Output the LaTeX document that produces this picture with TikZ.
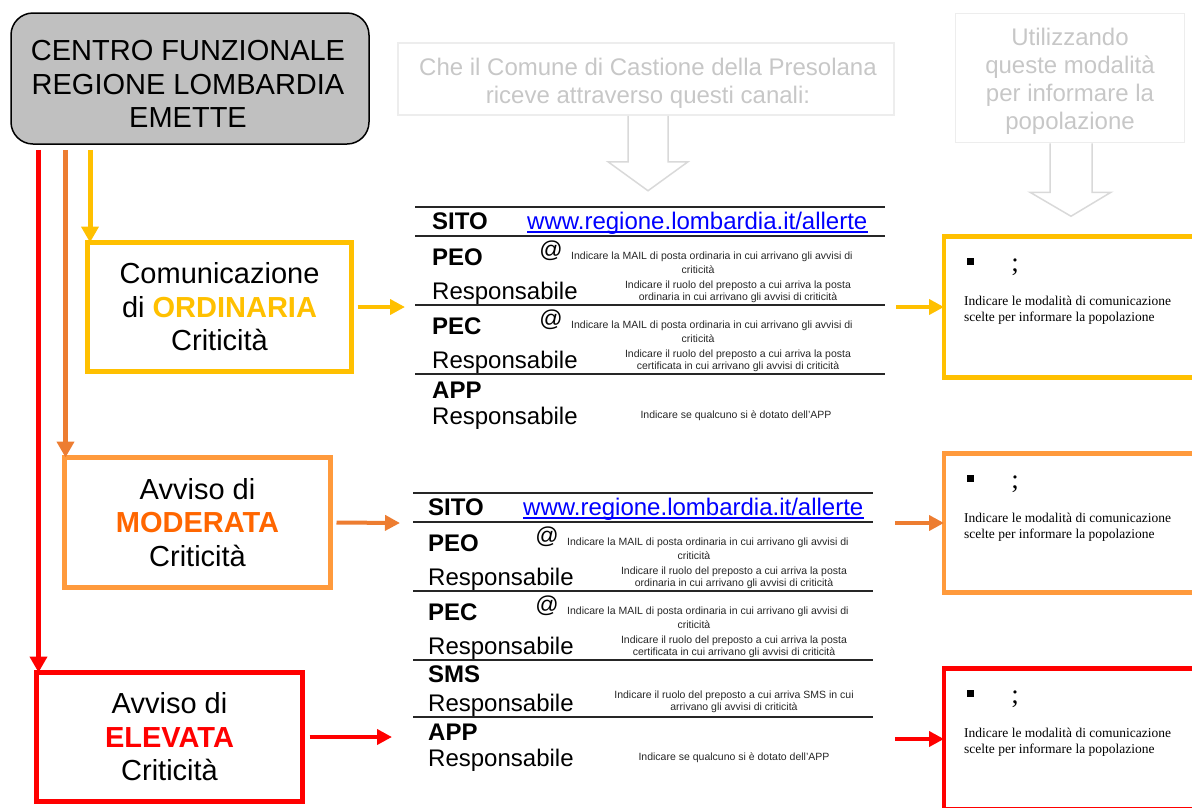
\documentclass[tikz,border=0pt]{standalone}
\usepackage{fontspec}
\setmainfont{Liberation Sans}
\newfontfamily\timesfont{Liberation Serif}
\usetikzlibrary{calc}
\usetikzlibrary{arrows.meta}

\definecolor{giallo}{HTML}{FFC000}
\definecolor{arancio}{HTML}{ED7D31}
\definecolor{aranciobox}{HTML}{FF9A3C}
\definecolor{arancione}{HTML}{FF6600}
\definecolor{rosso}{HTML}{FF0000}
\definecolor{grigio}{HTML}{C0C0C0}

\begin{document}
\begin{tikzpicture}[x=1pt, y=-1pt,
  livello/.style={draw=#1, line width=5pt, minimum width=266pt, minimum height=129pt, inner sep=0pt, outer sep=0pt, align=center, font=\fontsize{29}{33.5}\selectfont},
  uscita/.style={draw=#1, line width=4.5pt, minimum width=254pt, minimum height=141pt, inner sep=0pt, outer sep=0pt},
  giu/.style={line width=5pt, -{Triangle[length=16pt,width=17pt]}},
  lato/.style={line width=4pt, -{Triangle[length=15pt,width=15pt]}},
  testata/.style={draw=black!7, line width=1.5pt},
  titolo/.style={text=black!22, align=center, inner sep=0pt, font=\fontsize{24}{28}\selectfont},
  cava/.style={draw=black!15, line width=1.5pt, line join=miter},
  riga/.style={black!85, line width=1.4pt},
  canale/.style={anchor=base west, inner sep=0pt, font=\bfseries\fontsize{24}{28}\selectfont},
  resp/.style={anchor=base west, inner sep=0pt, font=\fontsize{24}{28}\selectfont},
  nota/.style={inner sep=0pt, align=center, text=black!85, font=\fontsize{10.5}{12}\selectfont},
  modo/.style={anchor=north west, inner sep=0pt, align=left, font=\timesfont\fontsize{13.5}{16}\selectfont}]
\clip (0,0) rectangle (1192,807);

\node[draw, line width=1.5pt, fill=grigio, rounded corners=22pt, minimum width=358pt, minimum height=131pt] (centro) at (190,78.5) {};
\node[align=center, inner sep=0pt, font=\fontsize{29}{33.5}\selectfont] (centrotesto) at (188,84) {CENTRO FUNZIONALE\\REGIONE LOMBARDIA\\EMETTE};

\node[livello=giallo, minimum width=264pt] (ord) at (219.5,307) {Comunicazione\\di \textcolor{giallo}{\bfseries ORDINARIA}\\Criticità};
\node[livello=aranciobox, minimum height=130pt] (mod) at (197.5,522.5) {Avviso di\\\textcolor{arancione}{\bfseries MODERATA}\\Criticità};
\node[livello=rosso] (ele) at (169.5,737) {Avviso di\\\textcolor{rosso}{\bfseries ELEVATA}\\Criticità};

\draw[giu, rosso] ($(centro.south -| ele.north west)+(2,5)$) -- ([xshift=2pt]ele.north west);
\draw[giu, arancio] ($(centro.south -| mod.north west)+(1,5)$) -- ([xshift=1pt]mod.north west);
\draw[giu, giallo] ($(centro.south -| ord.north west)+(2.5,5)$) -- ([xshift=2.5pt]ord.north west);

\node[testata, minimum width=496pt, minimum height=72pt] (canali) at (646,79) {};
\node[titolo] (canalitesto) at (648,83) {Che il Comune di Castione della Presolana\\riceve attraverso questi canali:};
\node[testata, minimum width=229pt, minimum height=129pt] (popolo) at (1070,78) {};
\node[titolo] (popolotesto) at (1070,81) {Utilizzando\\queste modalità\\per informare la\\popolazione};
\draw[cava] ([xshift=-18pt]canali.south) -- ++(0,46) -- ++(-20,0) -- ++(40,29) -- ++(40,-29) -- ++(-20,0) -- ++(0,-46);
\draw[cava] ([xshift=-20pt]popolo.south) -- ++(0,49) -- ++(-20,0) -- ++(41,24) -- ++(40,-24) -- ++(-19,0) -- ++(0,-49);

\node[uscita=giallo] (modoa) at (1071,307) {};
\node[uscita=aranciobox, minimum height=139pt] (modob) at (1071,523) {};
\node[uscita=rosso] (modoc) at (1071,739) {};
\foreach \b in {modoa, modob, modoc} {
  \fill ($(\b.north west)+(23,21.5)$) rectangle ++(7,7);
  \node[font=\timesfont\fontsize{27}{30}\selectfont, inner sep=0pt] (pv\b) at ($(\b.north west)+(71,31)$) {;};
  \node[modo] (txt\b) at ($(\b.north west)+(20,59)$) {Indicare le modalità di comunicazione\\scelte per informare la popolazione};
}

\coordinate (ina) at (405,307);
\coordinate (inb) at (400,523);
\coordinate (inc) at (392,737);
\coordinate (outa) at (896,307);
\coordinate (outb) at (895,523);
\coordinate (outc) at (895,739);
\draw[lato, giallo] ([xshift=6pt]ord.east) -- (ina);
\draw[lato, arancio] ([xshift=6pt]mod.east) -- (inb);
\draw[lato, rosso] ([xshift=7pt]ele.east) -- (inc);
\draw[lato, giallo] (outa) -- (modoa.west);
\draw[lato, arancio] (outb) -- (modob.west);
\draw[lato, rosso] (outc) -- (modoc.west);

\foreach \y in {207,236,305,374} \draw[riga] (415,\y) -- (885,\y);
\foreach \y in {493,522,591,660,717} \draw[riga] (413,\y) -- (873,\y);

\foreach \t/\dx/\dy in {a/0/0, b/4/286} {
  \node[canale] (sito\t) at ({432-\dx},{229+\dy}) {SITO};
  \node[resp, text=blue] (url\t) at ({527-\dx},{229+\dy}) {www.regione.lombardia.it/allerte};
  \draw[blue, line width=1.2pt] ([yshift=-3pt]url\t.base west) -- ([yshift=-3pt]url\t.base east);
  \foreach \ch/\tipo [count=\i from 0] in {PEO/ordinaria, PEC/certificata} {
    \node[canale] (\ch\t) at ({432-\dx},{265+\dy+69*\i}) {\ch};
    \node[inner sep=0pt, font=\fontsize{23}{25}\selectfont] (at\ch\t) at ({551-\dx},{251+\dy+69*\i}) {@};
    \node[nota, anchor=west] (mail\ch\t) at ({571-\dx},{257+\dy+69*\i}) {Indicare la MAIL di posta ordinaria in cui arrivano gli avvisi di};
    \node[nota] (crit\ch\t) at ({698-\dx},{270+\dy+69*\i}) {criticità};
    \node[resp] (resp\ch\t) at ({432-\dx},{299+\dy+69*\i}) {Responsabile};
    \node[nota] (ruolo\ch\t) at ({738-\dx},{291.5+\dy+69*\i}) {Indicare il ruolo del preposto a cui arriva la posta\\\tipo\ in cui arrivano gli avvisi di criticità};
  }
}

\node[canale] (appa) at (432,398) {APP};
\node[resp] (respappa) at (432,424) {Responsabile};
\node[nota] (notaappa) at (736,416) {Indicare se qualcuno si è dotato dell'APP};
\node[canale] (smsb) at (428,682) {SMS};
\node[resp] (respsmsb) at (428,711) {Responsabile};
\node[nota] (notasmsb) at (734,702) {Indicare il ruolo del preposto a cui arriva SMS in cui\\arrivano gli avvisi di criticità};
\node[canale] (appb) at (428,740) {APP};
\node[resp] (respappb) at (428,766) {Responsabile};
\node[nota] (notaappb) at (734,758) {Indicare se qualcuno si è dotato dell'APP};

\end{tikzpicture}
\end{document}
